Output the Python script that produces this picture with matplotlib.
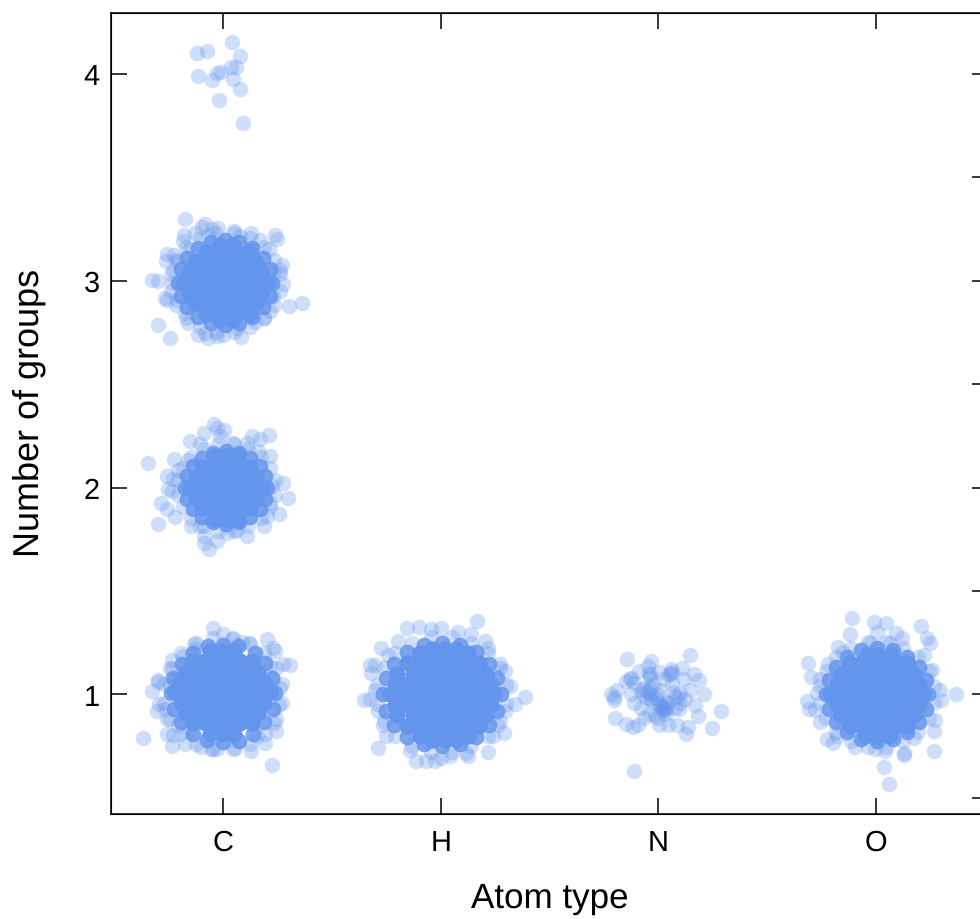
import numpy as np
import matplotlib
matplotlib.use('Agg')
import matplotlib.pyplot as plt

plt.rcParams['font.family'] = ['Liberation Sans', 'DejaVu Sans']
plt.rcParams['text.hinting'] = 'no_hinting'
plt.rcParams['text.hinting_factor'] = 1

# --- Axis labels ---
atom_types = ['C', 'H', 'N', 'O']
atom_pos = [1, 2, 3, 4]
group_ticks = [1, 2, 3, 4]
right_ticks = [0.5, 1, 1.5, 2, 2.5, 3, 3.5, 4]

# --- Separately visible points ---
c4_x = [1.043, 1.078, 0.927, 0.881, 1.035, 1.058, 0.971, 0.991, 0.884, 0.948, 1.047, 1.079, 0.980, 1.090]
c4_y = [4.151, 4.087, 4.110, 4.097, 4.030, 4.030, 4.003, 4.008, 3.986, 3.970, 3.976, 3.923, 3.873, 3.760]

c3_x = [.827, .918, .902, .976, .948, 1.052, 1.129, 1.239, 1.250, .823, .818, 1.078, 1.170, .741, .737, .775, .849,
        .795, 1.212, 1.273, 1.262, .676, .703, 1.277, .734, .744, .772, .764, 1.231, 1.365, 1.305, .700, .757, .841,
        .887, .930, .918, .971, 1.002, 1.081, 1.147, 1.189, 1.216, .826, 1.063, .787, 1.231, .872, .933]
c3_y = [3.298, 3.271, 3.259, 3.255, 3.247, 3.237, 3.230, 3.218, 3.203, 3.222, 3.190, 3.214, 3.198, 3.129, 3.094, 3.121, 3.150,
        3.094, 3.150, 3.077, 3.053, 3.005, 2.997, 2.981, 2.916, 2.908, 3.053, 2.989, 2.924, 2.892, 2.876, 2.784, 2.720, 2.796,
        2.739, 2.723, 2.747, 2.731, 2.739, 2.728, 2.799, 2.820, 2.852, 2.844, 2.771, 2.908, 3.037, 3.230, 3.214]

c2_x = [.960, .974, 1.005, .913, .849, 1.135, 1.212, 1.170, .775, .657, 1.216, .741, .795, .772, .749, .764, 1.274, 1.300,
        .714, .741, .780, .703, 1.257, 1.190, 1.112, .852, .895, .914, .913, .937, .971, 1.017, 1.063, 1.224, 1.216, 1.201,
        .895, .986, 1.048, 1.109, 1.163, .841]
c2_y = [2.305, 2.288, 2.277, 2.261, 2.224, 2.251, 2.253, 2.235, 2.139, 2.119, 2.152, 2.055, 2.087, 2.039, 1.991, 1.982, 2.023, 1.947,
        1.926, 1.897, 1.858, 1.825, 1.870, 1.813, 1.768, 1.813, 1.813, 1.768, 1.733, 1.701, 1.741, 1.781, 1.797, 2.007, 1.926, 1.862,
        2.208, 2.248, 2.216, 2.216, 2.176, 2.135]

c1_x = [.956, 1.002, .867, 1.040, 1.089, 1.124, 1.201, 1.231, 1.239, .764, .818, 1.308, 1.277, .764, .703, .703, .676, 1.262,
        .708, .695, .734, 1.259, .634, .741, .772, .767, .826, .899, .944, .971, 1.055, 1.127, 1.193, 1.224, 1.244, 1.235,
        .872, .787, .757, .741, .795, .841, 1.155, 1.216, 1.231, .841]
c1_y = [1.319, 1.290, 1.242, 1.269, 1.253, 1.242, 1.266, 1.226, 1.210, 1.169, 1.186, 1.142, 1.145, 1.121, 1.070, 1.060, 1.016, 1.029,
        .952, .920, .928, .947, .791, .810, .802, .751, .759, .746, .735, .735, .743, .727, .767, .659, .823, .863,
        1.218, 1.073, 1.041, .880, .855, .823, .799, 1.137, 1.073, 1.145]

h_x = [2.169, 1.900, 1.844, 1.954, 2.003, 2.080, 2.138, 2.202, 1.724, 1.674, 1.697, 1.682, 1.804, 1.648, 1.674, 2.386, 2.340, 2.317,
       2.294, 2.291, 2.240, 1.712, 1.750, 2.217, 2.126, 2.118, 1.888, 1.934, 1.858, 1.972, 2.041, 2.003, 1.735, 2.263, 2.294, 1.712,
       1.697, 1.758, 2.217, 2.271]
h_y = [1.354, 1.325, 1.319, 1.314, 1.322, 1.303, 1.290, 1.258, 1.226, 1.142, 1.142, 1.105, 1.258, .971, .976, .989, .955, 1.040,
       1.113, .815, .799, .743, .799, .723, .702, .718, .678, .678, .730, .678, .702, .694, .855, .855, .920, .920,
       1.024, 1.193, 1.226, 1.145]

n_x = [2.856, 2.967, 2.951, 3.147, 3.109, 3.056, 3.063, 3.005, 2.913, 2.956, 2.961, 3.056, 3.163, 3.186, 2.875, 2.849, 2.869, 2.811,
       2.780, 2.795, 2.798, 2.887, 2.918, 2.948, 2.994, 3.025, 3.063, 3.117, 3.209, 3.147, 3.101, 3.124, 3.078, 2.872, 2.887, 2.964,
       3.040, 3.033, 3.017, 3.094, 3.170, 3.288, 3.181, 2.918, 2.933, 2.956, 2.994, 2.800, 2.853, 2.884, 2.905, 3.002, 3.043, 3.086,
       3.137, 3.126, 3.247, 2.887, 3.002, 2.933, 3.010, 3.030, 3.020, 2.960, 2.960, 2.970, 3.050, 2.960, 3.090, 3.100,
       2.990, 3.015, 3.040, 2.975, 3.005, 3.025, 2.945, 3.065, 2.925, 3.075, 2.985, 3.035]
n_y = [1.173, 1.161, 1.140, 1.190, 1.129, 1.121, 1.110, 1.110, 1.113, 1.097, 1.081, 1.097, 1.097, 1.070, 1.081, 1.065, 1.073, 1.024,
       1.000, .989, .971, 1.057, 1.024, 1.016, 1.000, 1.073, 1.057, 1.073, 1.000, 1.024, 1.008, .976, .992, 1.000, .960, .976,
       .960, .928, .920, .928, .949, .921, .896, .936, .888, .904, .888, .884, .857, .844, .855, .855, .855, .855,
       .844, .807, .839, .630, .952, 1.032, .940, .945, .930, 1.030, 1.000, .970, 1.100, 1.100, .990, .960,
       .985, .950, .965, 1.045, 1.020, .920, .985, 1.010, 1.000, .935, .900, .905]

o_x = [3.888, 3.991, 4.045, 4.003, 4.205, 4.233, 3.881, 4.092, 4.118, 3.827, 3.850, 4.064, 4.218, 3.689, 3.781, 3.700, 3.743, 4.256,
       4.294, 4.366, 4.297, 3.682, 3.694, 3.720, 3.743, 4.271, 4.268, 3.773, 3.804, 3.904, 3.996, 4.041, 4.126, 4.129, 4.268, 4.038,
       4.058, 4.172, 3.819, 3.728, 4.248, 3.973]
o_y = [1.370, 1.351, 1.343, 1.303, 1.330, 1.271, 1.293, 1.298, 1.274, 1.230, 1.205, 1.250, 1.193, 1.153, 1.148, 1.084, 1.076, 1.118,
       1.024, 1.003, .971, .968, .928, .924, .866, .879, .826, .783, .767, .746, .739, .726, .715, .710, .726, .651,
       .567, .791, .799, 1.008, 1.250, 1.250]

# --- Dense middle of each cluster, where points pile up until the colour is solid ---
# one y per row, then the x values in that row
c3_core_y = [2.99, 3.04, 2.94, 3.09, 2.89, 3.14, 2.84, 3.17, 2.81]
c3_core_x = [[.82, .875, .93, .985, 1.04, 1.095, 1.15, 1.20],
             [.845, .90, .955, 1.01, 1.065, 1.12, 1.175],
             [.845, .90, .955, 1.01, 1.065, 1.12, 1.175],
             [.87, .93, .985, 1.04, 1.095, 1.15],
             [.87, .93, .985, 1.04, 1.095, 1.15],
             [.92, .96, 1.01, 1.065, 1.12],
             [.92, .96, 1.01, 1.065, 1.12],
             [.985, 1.04],
             [.985, 1.04]]

c2_core_y = [2.00, 2.05, 1.95, 2.10, 1.90, 2.15, 1.85]
c2_core_x = [[.85, .905, .96, 1.014, 1.07, 1.125, 1.18],
             [.877, .932, .987, 1.042, 1.097, 1.152],
             [.877, .932, .987, 1.042, 1.097, 1.152],
             [.905, .96, 1.014, 1.07, 1.125],
             [.905, .96, 1.014, 1.07, 1.125],
             [.96, 1.014, 1.07],
             [.96, 1.014, 1.07]]

c1_core_y = [1.01, 1.06, .96, 1.11, .91, 1.16, .86, 1.21, .81]
c1_core_x = [[.78, .835, .89, .945, 1.0, 1.055, 1.11, 1.165, 1.215],
             [.805, .86, .915, .97, 1.025, 1.08, 1.135, 1.19],
             [.805, .86, .915, .97, 1.025, 1.08, 1.135, 1.19],
             [.83, .885, .94, .995, 1.05, 1.105, 1.16],
             [.83, .885, .94, .995, 1.05, 1.105, 1.16],
             [.86, .915, .97, 1.025, 1.08, 1.135],
             [.86, .915, .97, 1.025, 1.08, 1.135],
             [.94, .995, 1.05],
             [.94, .995, 1.05]]

h_core_y = [1.00, 1.05, .95, 1.10, .90, 1.15, .85, 1.20, .80, 1.22, .78]
h_core_x = [[1.765, 1.82, 1.875, 1.93, 1.985, 2.04, 2.095, 2.15, 2.205, 2.245],
            [1.79, 1.845, 1.90, 1.955, 2.01, 2.065, 2.12, 2.175, 2.23],
            [1.79, 1.845, 1.90, 1.955, 2.01, 2.065, 2.12, 2.175, 2.23],
            [1.80, 1.875, 1.93, 1.985, 2.04, 2.095, 2.15, 2.21],
            [1.80, 1.875, 1.93, 1.985, 2.04, 2.095, 2.15, 2.21],
            [1.845, 1.90, 1.955, 2.01, 2.065, 2.12, 2.175],
            [1.845, 1.90, 1.955, 2.01, 2.065, 2.12, 2.175],
            [1.905, 1.96, 2.015, 2.07, 2.125],
            [1.905, 1.96, 2.015, 2.07, 2.125],
            [1.96, 2.02, 2.07],
            [1.96, 2.02, 2.07]]

o_core_y = [1.00, 1.05, .95, 1.10, .90, 1.15, .85, 1.19, .80]
o_core_x = [[3.795, 3.85, 3.905, 3.96, 4.005, 4.06, 4.115, 4.17, 4.215],
            [3.82, 3.875, 3.93, 3.985, 4.04, 4.095, 4.15, 4.195],
            [3.82, 3.875, 3.93, 3.985, 4.04, 4.095, 4.15, 4.195],
            [3.84, 3.90, 3.955, 4.01, 4.065, 4.12, 4.175],
            [3.84, 3.90, 3.955, 4.01, 4.065, 4.12, 4.175],
            [3.88, 3.93, 3.985, 4.04, 4.095, 4.14],
            [3.88, 3.93, 3.985, 4.04, 4.095, 4.14],
            [3.96, 4.01, 4.07],
            [3.95, 4.005, 4.06]]

# --- Edge of each cluster: inner band is thick, outer band thin ---
c1_in_x = [1.24, 1.225, 1.195, 1.145, 1.07, 1.00, .93, .86, .81, .77, .76, .775, .805, .86, .925, 1.00, 1.075, 1.14, 1.19, 1.23]
c1_in_y = [1.005, 1.08, 1.15, 1.20, 1.235, 1.24, 1.235, 1.20, 1.145, 1.08, 1.005, .93, .865, .81, .78, .77, .775, .81, .865, .93]
c1_out_x = [1.27, 1.245, 1.19, 1.12, 1.045, .955, .875, .805, .755, .73, .73, .755, .805, .875, .955, 1.045, 1.125, 1.195, 1.245, 1.27]
c1_out_y = [1.05, 1.13, 1.20, 1.25, 1.275, 1.275, 1.25, 1.20, 1.13, 1.05, .96, .88, .81, .76, .735, .735, .76, .81, .88, .96]

c3_in_x = [1.225, 1.215, 1.185, 1.135, 1.075, 1.01, .945, .885, .835, .805, .795, .805, .835, .885, .945, 1.01, 1.075, 1.135, 1.185, 1.215]
c3_in_y = [2.99, 3.055, 3.11, 3.155, 3.185, 3.195, 3.185, 3.155, 3.11, 3.055, 2.99, 2.925, 2.87, 2.825, 2.795, 2.785, 2.795, 2.825, 2.87, 2.925]
c3_out_x = [1.26, 1.235, 1.19, 1.125, 1.05, .97, .895, .83, .785, .76, .76, .785, .83, .895, .97, 1.05, 1.125, 1.19, 1.235, 1.26]
c3_out_y = [3.03, 3.10, 3.16, 3.205, 3.23, 3.23, 3.205, 3.16, 3.10, 3.03, 2.95, 2.88, 2.82, 2.775, 2.75, 2.75, 2.775, 2.82, 2.88, 2.95]

c2_in_x = [1.204, 1.195, 1.168, 1.126, 1.073, 1.014, .955, .902, .86, .833, .824, .833, .86, .902, .955, 1.014, 1.073, 1.126, 1.168, 1.195]
c2_in_y = [2.0, 2.054, 2.103, 2.142, 2.166, 2.175, 2.166, 2.142, 2.103, 2.054, 2.0, 1.946, 1.897, 1.858, 1.834, 1.825, 1.834, 1.858, 1.897, 1.946]
c2_out_x = [1.237, 1.214, 1.174, 1.115, 1.05, .978, .913, .854, .814, .791, .791, .814, .854, .913, .978, 1.05, 1.115, 1.174, 1.214, 1.237]
c2_out_y = [2.034, 2.095, 2.149, 2.187, 2.208, 2.208, 2.187, 2.149, 2.095, 2.034, 1.966, 1.905, 1.851, 1.813, 1.792, 1.792, 1.813, 1.851, 1.905, 1.966]

h_in_x = [2.275, 2.26, 2.224, 2.164, 2.089, 2.005, 1.921, 1.846, 1.786, 1.75, 1.735, 1.75, 1.786, 1.846, 1.921, 2.005, 2.089, 2.164, 2.224, 2.26]
h_in_y = [1.0, 1.078, 1.148, 1.203, 1.238, 1.25, 1.238, 1.203, 1.148, 1.078, 1.0, .922, .852, .797, .762, .75, .762, .797, .852, .922]
h_out_x = [2.302, 2.272, 2.218, 2.14, 2.053, 1.957, 1.87, 1.792, 1.738, 1.708, 1.708, 1.738, 1.792, 1.87, 1.957, 2.053, 2.14, 2.218, 2.272, 2.302]
h_out_y = [1.045, 1.126, 1.199, 1.249, 1.277, 1.277, 1.249, 1.199, 1.126, 1.045, .955, .874, .801, .751, .723, .723, .751, .801, .874, .955]

o_in_x = [4.24, 4.228, 4.195, 4.144, 4.078, 4.005, 3.932, 3.866, 3.815, 3.782, 3.77, 3.782, 3.815, 3.866, 3.932, 4.005, 4.078, 4.144, 4.195, 4.228]
o_in_y = [1.0, 1.07, 1.133, 1.182, 1.214, 1.225, 1.214, 1.182, 1.133, 1.07, 1.0, .93, .867, .818, .786, .775, .786, .818, .867, .93]
o_out_x = [4.267, 4.241, 4.193, 4.124, 4.047, 3.963, 3.886, 3.817, 3.769, 3.743, 3.743, 3.769, 3.817, 3.886, 3.963, 4.047, 4.124, 4.193, 4.241, 4.267]
o_out_y = [1.041, 1.115, 1.181, 1.227, 1.252, 1.252, 1.227, 1.181, 1.115, 1.041, .959, .885, .819, .773, .748, .748, .773, .819, .885, .959]

CORE_STACK = 12
EDGE_STACK = 5
COLOR = '#6495ED'
DOT = dict(s=125, color=COLOR, alpha=0.3, linewidths=0)


def flatten(row_y, row_x):
    xs = [x for row in row_x for x in row]
    ys = [y for y, row in zip(row_y, row_x) for _ in row]
    return xs, ys


fig = plt.figure(figsize=(9.8, 9.2), dpi=100)
ax = fig.add_axes([111 / 980, 105.5 / 920, 877 / 980, 801 / 920])

loose = [(c4_x, c4_y), (c3_x, c3_y), (c2_x, c2_y), (c1_x, c1_y), (h_x, h_y), (n_x, n_y), (o_x, o_y),
         (c1_out_x, c1_out_y), (c3_out_x, c3_out_y), (c2_out_x, c2_out_y), (h_out_x, h_out_y), (o_out_x, o_out_y)]
for xs, ys in loose:
    ax.scatter(xs, ys, **DOT)

edges = [(c1_in_x, c1_in_y), (c3_in_x, c3_in_y), (c2_in_x, c2_in_y), (h_in_x, h_in_y), (o_in_x, o_in_y)]
for xs, ys in edges:
    ax.scatter(np.repeat(xs, EDGE_STACK), np.repeat(ys, EDGE_STACK), **DOT)

cores = [(c3_core_y, c3_core_x), (c2_core_y, c2_core_x), (c1_core_y, c1_core_x),
         (h_core_y, h_core_x), (o_core_y, o_core_x)]
for row_y, row_x in cores:
    xs, ys = flatten(row_y, row_x)
    ax.scatter(np.repeat(xs, CORE_STACK), np.repeat(ys, CORE_STACK), **DOT)

ax.set_xlim(0.4855, 4.514)
ax.set_ylim(0.425, 4.295)
ax.set_xticks(atom_pos)
ax.set_xticklabels(atom_types)
ax.set_yticks(group_ticks)
ax.tick_params(axis='both', direction='in', length=11.5, width=1.1, labelsize=21, top=True)
ax.tick_params(axis='x', pad=11)
ax.tick_params(axis='y', pad=8)
for spine in ax.spines.values():
    spine.set_linewidth(1.1)

ax2 = ax.twinx()
ax2.set_ylim(ax.get_ylim())
ax2.set_yticks(right_ticks)
ax2.set_yticklabels([])
ax2.tick_params(axis='y', direction='in', length=11.5, width=1.1)

fig.text(550 / 980, 1 - 899 / 920, 'Atom type', fontsize=25.5, ha='center', va='center')
fig.text(29 / 980, 1 - 413 / 920, 'Number of groups', fontsize=25.6, rotation=90, ha='center', va='center')

fig.savefig('out.png', dpi=100)
